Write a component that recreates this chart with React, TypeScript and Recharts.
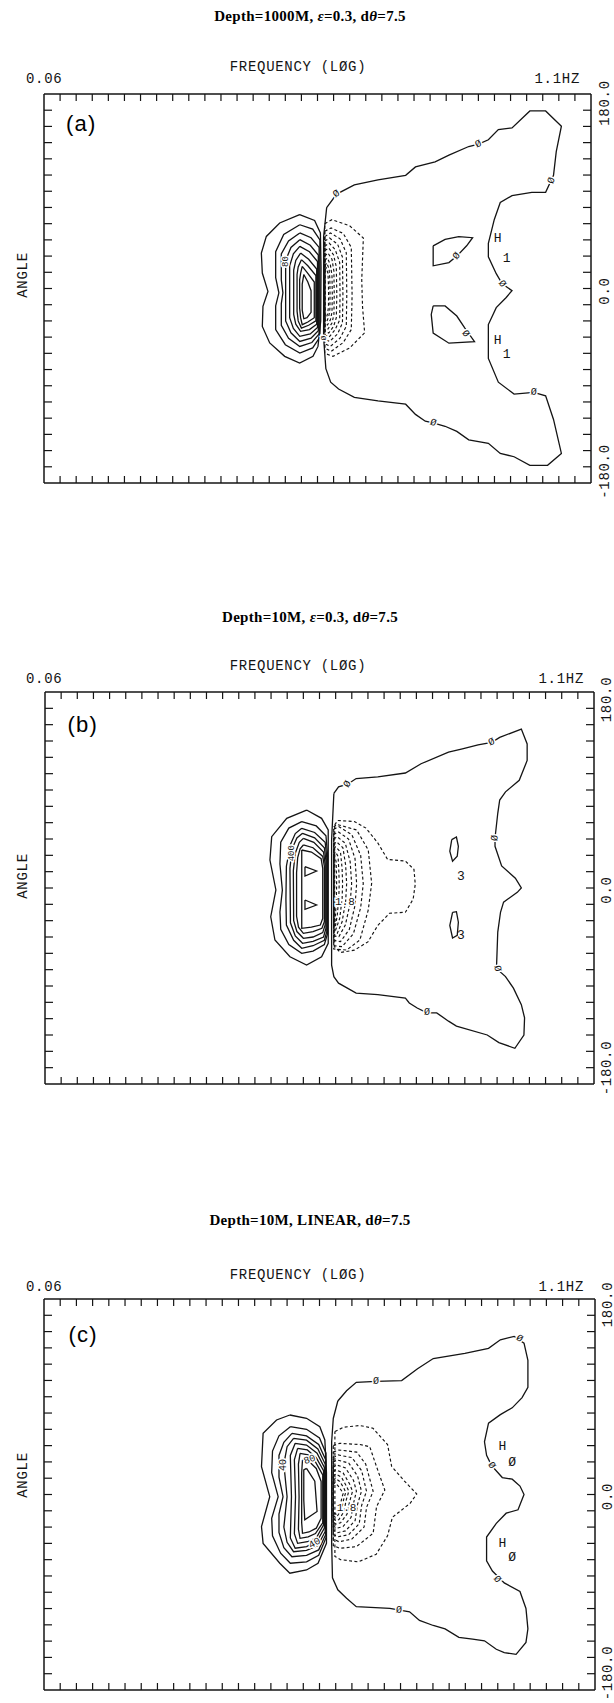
import React from "react";
import { LineChart, Line, XAxis, YAxis, ReferenceDot } from "recharts";

type Pt = [number, number];
type Tag = { x: number; y: number; t: string; rot?: number; size?: number; halo?: boolean };
type Box = { left: number; right: number; top: number; bottom: number };

// x: frequency bin on the log axis (0.06 .. 1.1 Hz), y: direction in degrees
const FREQ_TICKS = [1, 2, 3, 4, 5, 6, 7, 8, 9, 10, 11, 12, 13, 14, 15, 16, 17, 18, 19, 20, 21, 22, 23, 24, 25, 26, 27, 28, 29, 30, 31, 32, 33];
const ANGLE_TICKS = [-165, -150, -135, -120, -105, -90, -75, -60, -45, -30, -15, 0, 15, 30, 45, 60, 75, 90, 105, 120, 135, 150, 165];

// ---------- (a) depth 1000 m ----------
const A_ZERO: Pt[] = [
  [17.57, 74.9], [18.19, 87.4], [19.29, 95.9], [20.76, 100.6], [22.48, 104.7], [23.09, 112.5], [24.31, 117.2], [25.17, 123.5],
  [26.4, 131.4], [27.01, 133.6], [27.62, 137.6], [28.24, 147.1], [29.09, 148.6], [30.2, 164.3], [31.18, 164.3], [32.16, 150.2],
  [31.84, 126.7], [31.67, 104.7], [31.18, 89.0], [30.32, 89.0], [29.09, 85.9], [28.36, 79.6], [27.99, 63.9], [27.62, 41.9],
  [27.62, 29.4], [28.11, 13.7], [28.48, 4.3], [29.09, -2.0], [28.73, -8.3], [28.11, -17.7], [27.62, -33.4], [27.62, -64.7],
  [28.24, -86.7], [29.22, -97.7], [30.44, -96.1], [31.18, -99.3], [31.67, -121.2], [32.16, -152.6], [31.3, -163.6], [30.2, -163.6],
  [29.22, -155.7], [28.36, -152.6], [27.62, -143.2], [26.4, -140.0], [25.66, -132.2], [24.93, -127.5], [24.19, -124.4], [23.7, -122.8],
  [23.09, -116.5], [22.48, -107.1], [20.76, -104.0], [19.29, -100.8], [18.31, -93.0], [17.82, -86.7], [17.52, -74.2], [17.38, -45.9],
  [17.38, 48.2],
];
const A_LOOP_UP: Pt[] = [[24.19, 39.5], [24.93, 45.5], [25.78, 48], [26.64, 47], [26.27, 39.5], [25.66, 30], [25.17, 24], [24.19, 21]];
const A_LOOP_DN: Pt[] = [[24.19, -16.1], [24.93, -16.1], [25.66, -25.5], [26.15, -36.5], [26.76, -49.1], [25.17, -50.6], [24.19, -41.2], [24.07, -24.0]];
const A_POS: Pt[][] = [
  [[15.89, 68.3], [16.82, 63], [17.18, 51.4], [17.22, 20], [17.2, -30], [17.03, -53.6], [16.72, -62.8], [15.89, -69], [14.96, -62.8], [14.03, -50.4], [13.57, -35.1], [13.61, -16.5], [13.92, -2.7], [13.57, 14.3], [13.51, 32.8], [13.82, 48.2], [14.65, 60.6]],
  [[15.9, 59], [16.7, 55], [17.15, 45], [17.15, -45], [16.7, -55], [15.9, -59.7], [15.0, -52], [14.4, -38], [14.4, -16], [14.6, -4], [14.4, 10], [14.4, 34], [14.9, 50]],
  [[15.9, 51.4], [16.6, 47], [17.1, 38], [17.1, -42], [16.65, -50], [15.9, -53.6], [15.2, -46], [14.75, -34], [14.75, -14], [14.85, -4], [14.75, 8], [14.75, 32], [15.2, 44]],
  [[15.9, 45.2], [16.55, 40], [17.05, 31], [17.05, -39], [16.6, -46], [15.9, -49], [15.35, -41], [15.02, -30], [15.02, 26], [15.35, 38]],
  [[15.9, 39], [16.5, 34], [17.0, 25], [17.0, -36], [16.55, -42], [15.9, -44.3], [15.5, -37], [15.27, -27], [15.27, 21], [15.5, 32]],
  [[15.95, 32.8], [16.45, 27], [16.95, 18], [16.95, -33], [16.5, -38], [15.95, -39.7], [15.65, -33], [15.52, -24], [15.52, 17], [15.65, 26]],
  [[16.0, 26.7], [16.4, 21], [16.9, 12], [16.9, -30], [16.45, -34], [16.0, -36.6], [15.8, -30], [15.73, -21], [15.73, 13], [15.8, 20]],
  [[16.05, 20.5], [16.35, 15], [16.8, 6], [16.8, -27], [16.4, -31], [16.05, -33.5], [15.95, -27], [15.89, -18], [15.89, 8], [15.95, 14]],
  [[16.15, 13], [16.4, 6], [16.6, -2], [16.6, -22], [16.35, -27], [16.15, -28], [16.05, -20], [16.05, 4]],
];
const A_NEG: Pt[][] = [
  [[17.45, 60], [17.9, 63.7], [19.0, 58], [19.85, 46.7], [19.75, 8], [19.8, -17], [19.93, -41], [19.0, -55], [17.96, -62.8], [17.45, -60]],
  [[17.45, 53], [17.85, 56], [18.6, 51], [19.1, 38], [19.15, -6], [19.1, -38], [18.6, -50], [17.85, -58.2], [17.45, -55]],
  [[17.45, 48], [17.8, 51.4], [18.4, 46], [18.79, 33], [18.82, -6], [18.79, -35], [18.4, -46], [17.8, -53.6], [17.45, -51]],
  [[17.45, 44], [17.75, 46.7], [18.25, 41], [18.55, 29], [18.58, -6], [18.55, -32], [18.25, -42], [17.75, -49], [17.45, -47]],
  [[17.45, 39], [17.72, 42.1], [18.1, 36], [18.38, 24], [18.4, -6], [18.38, -29], [18.1, -38], [17.72, -44.9], [17.45, -43]],
  [[17.45, 35], [17.7, 37.5], [18.0, 31], [18.17, 20], [18.2, -6], [18.17, -27], [18.0, -35], [17.7, -41.2], [17.45, -39]],
  [[17.45, 30], [17.65, 32.9], [17.9, 27], [18.02, 16], [18.04, -6], [18.02, -24], [17.9, -32], [17.65, -37.5], [17.45, -35]],
  [[17.45, 26], [17.62, 28.2], [17.8, 22], [17.9, 12], [17.92, -6], [17.9, -22], [17.8, -29], [17.62, -33.8], [17.45, -32]],
  [[17.45, 21], [17.58, 23.6], [17.72, 18], [17.77, 8], [17.78, -6], [17.77, -19], [17.7, -26], [17.58, -30.4], [17.45, -29]],
  [[17.45, 17], [17.55, 19], [17.65, 14], [17.68, 4], [17.69, -6], [17.68, -17], [17.63, -23], [17.55, -27.3], [17.45, -26]],
];
const A_TAGS: Tag[] = [
  { x: 18.19, y: 87.4, t: "Ø", rot: -35, halo: true },
  { x: 27.01, y: 133.6, t: "Ø", rot: -25, halo: true },
  { x: 31.55, y: 100, t: "Ø", rot: -70, halo: true },
  { x: 28.48, y: 4.3, t: "Ø", rot: 50, halo: true },
  { x: 30.44, y: -96.1, t: "Ø", rot: 5, halo: true },
  { x: 24.19, y: -124.4, t: "Ø", rot: 20, halo: true },
  { x: 25.66, y: 30, t: "Ø", rot: -50, halo: true },
  { x: 26.2, y: -42, t: "Ø", rot: 55, halo: true },
  { x: 17.38, y: -46, t: "Ø", rot: -90, size: 8, halo: true },
  { x: 15.07, y: 25, t: "80", rot: -90, size: 9, halo: true },
  { x: 28.2, y: 46, t: "H", size: 13 },
  { x: 28.75, y: 28, t: "1", size: 13 },
  { x: 28.2, y: -48.5, t: "H", size: 13 },
  { x: 28.75, y: -61, t: "1", size: 13 },
];

// ---------- (b) depth 10 m ----------
const B_ZERO: Pt[] = [
  [17.89, 86.8], [18.18, 92.9], [18.74, 95.3], [19.27, 100.5], [20.61, 102.0], [22.32, 105.6], [23.29, 114.1], [24.99, 124.7],
  [25.85, 127.7], [26.82, 131.4], [27.67, 133.8], [28.16, 138.3], [29.5, 146], [29.86, 132.3], [29.86, 117.1], [29.37, 98.9],
  [28.52, 88.3], [28.16, 80.8], [28.04, 68.6], [27.87, 45.9], [27.87, 38.3], [28.28, 20.2], [29.13, 9], [29.5, 0], [29.25, -4],
  [28.4, -13], [28.21, -22.3], [28.04, -40.5], [27.96, -73.8], [28.52, -81.4], [29.01, -92.0], [29.5, -107.1], [29.7, -119.2],
  [29.66, -135], [29.1, -147.2], [28.11, -142], [27.39, -135], [25.48, -126.8], [24.99, -122.3], [24.26, -114.7], [23.66, -114.7],
  [23.05, -110.2], [22.56, -105.6], [22.32, -101.1], [20.61, -98.0], [19.27, -96.5], [18.18, -87.4], [17.89, -81.4], [17.75, -70.8],
  [17.75, -22.3], [17.75, 44.4],
];
const B_LOOP_UP: Pt[] = [[25.19, 44.4], [25.48, 46.8], [25.6, 38.3], [25.53, 29.2], [25.24, 24.7], [25.07, 33.8]];
const B_LOOP_DN: Pt[] = [[25.24, -22.3], [25.48, -21.7], [25.6, -31.4], [25.53, -43.5], [25.24, -45.9], [25.07, -34.4]];
const B_PEAKS: Pt[][] = [
  [[16.1, 19.6], [16.82, 15.6], [16.1, 11.0]],
  [[16.1, -11.0], [16.82, -15.6], [16.1, -19.6]],
];
const B_POS: Pt[][] = [
  [[16.2, 71.6], [17.13, 64], [17.54, 53.3], [17.54, -50.8], [17.13, -63.1], [16.2, -70.7], [15.17, -63.1], [14.24, -47.8], [13.98, -26.4], [14.3, -1.8], [13.93, 25.7], [14.04, 47.1], [14.97, 64]],
  [[15.9, 60.9], [16.8, 57], [17.4, 48], [17.5, 30], [17.5, -42], [17.3, -52], [16.6, -58], [15.9, -60], [15.1, -52], [14.6, -38], [14.55, -22], [14.7, -2], [14.55, 22], [14.6, 42], [15.1, 55]],
  [[15.9, 54.8], [16.7, 51], [17.35, 42], [17.45, 28], [17.45, -40], [17.3, -48], [16.6, -53], [15.9, -55.4], [15.4, -48], [14.95, -34], [14.92, -10], [14.95, 20], [15.2, 40], [15.5, 50]],
  [[15.95, 50.2], [16.7, 46], [17.3, 37], [17.4, 25], [17.4, -37], [17.25, -45], [16.6, -49], [15.95, -50.8], [15.5, -44], [15.2, -32], [15.17, 18], [15.3, 36], [15.6, 46]],
  [[16.0, 45.6], [16.65, 42], [17.25, 33], [17.35, 22], [17.35, -34], [17.2, -41], [16.6, -45], [16.0, -46.2], [15.6, -40], [15.4, -30], [15.38, 16], [15.5, 32], [15.75, 42]],
  [[16.0, 39.5], [16.6, 37], [17.2, 29], [17.3, 20], [17.3, -31], [17.15, -37], [16.6, -40], [16.0, -41.6], [15.7, -36], [15.58, -26], [15.58, 14], [15.65, 28], [15.8, 36]],
  [[15.9, 34.9], [16.5, 33], [17.1, 27], [17.2, 18], [17.2, -28], [17.05, -34], [16.5, -36], [15.9, -37]],
];
const B_NEG: Pt[][] = [
  [[17.94, 58], [18.13, 62.0], [19.15, 61.1], [19.88, 55.0], [20.61, 41.4], [21.22, 26.2], [22.32, 24.7], [22.85, 17.1], [22.93, 3.5], [22.8, -10.2], [22.32, -22.3], [21.34, -23.2], [20.61, -34.4], [20.0, -49.5], [19.15, -57.1], [18.3, -59.2], [17.94, -54.1]],
  [[17.88, 56], [18.06, 58.5], [19.3, 53.3], [20.02, 34.9], [20.23, 4.3], [20.02, -20.2], [19.5, -47.8], [18.68, -57], [17.88, -56]],
  [[17.88, 54], [18.2, 56.3], [19.0, 49], [19.55, 30], [19.71, 4], [19.55, -18], [19.1, -42], [18.4, -53.9], [17.88, -53]],
  [[17.88, 49], [18.15, 51.7], [18.8, 45], [19.2, 27], [19.3, 4], [19.2, -16], [18.85, -38], [18.3, -49.3], [17.88, -48]],
  [[17.88, 45], [18.1, 47.1], [18.6, 41], [18.9, 24], [18.99, 4], [18.9, -14], [18.6, -34], [18.2, -44.7], [17.88, -44]],
  [[17.88, 40], [18.05, 42.5], [18.45, 37], [18.62, 21], [18.68, 4], [18.62, -12], [18.4, -31], [18.1, -41.6], [17.88, -41]],
  [[17.88, 36], [18.0, 37.9], [18.3, 33], [18.4, 18], [18.43, 4], [18.4, -10], [18.25, -28], [18.0, -38.6], [17.88, -38]],
  [[17.88, 31], [17.98, 33.4], [18.15, 29], [18.2, 15], [18.22, 4], [18.2, -8], [18.1, -25], [17.98, -35.5], [17.88, -35]],
  [[17.88, 27], [17.95, 28.8], [18.03, 24], [18.05, 12], [18.06, 4], [18.05, -6], [18.0, -22], [17.95, -32.4], [17.88, -32]],
];
const B_TAGS: Tag[] = [
  { x: 18.74, y: 95.3, t: "Ø", rot: -60, halo: true },
  { x: 27.67, y: 133.8, t: "Ø", rot: -25, halo: true },
  { x: 27.87, y: 45.9, t: "Ø", rot: -85, halo: true },
  { x: 28.0, y: -74, t: "Ø", rot: 80, halo: true },
  { x: 23.66, y: -114.7, t: "Ø", rot: 0, halo: true },
  { x: 15.28, y: 31.9, t: "400", rot: -90, size: 9, halo: true },
  { x: 18.58, y: -12.6, t: "1.8", size: 11, halo: true },
  { x: 25.75, y: 11, t: "3", size: 13 },
  { x: 25.75, y: -44, t: "3", size: 13 },
];

// ---------- (c) depth 10 m, linear ----------
const C_ZERO: Pt[] = [
  [18.13, 86.1], [18.67, 95.5], [19.27, 103.3], [20.49, 104.2], [22.07, 104.9], [23.05, 115.8], [24.02, 125.2], [25.97, 129.9],
  [27.43, 134.6], [28.16, 142.4], [29.01, 145.6], [29.62, 139.3], [29.86, 123.6], [29.86, 98.6], [29.5, 89.2], [28.89, 79.8],
  [28.16, 73.5], [27.43, 65.7], [27.18, 48.5], [27.31, 36.0], [27.62, 26.6], [28.28, 15.6], [28.89, 14.1], [29.37, 7.8],
  [29.62, 0.0], [29.25, -14.1], [28.52, -17.2], [27.91, -26.6], [27.31, -39.2], [27.31, -61.1], [27.67, -70.5], [28.4, -81.4],
  [29.37, -89.3], [29.74, -104.9], [29.86, -123.7], [29.74, -136.2], [29.13, -147.2], [28.4, -145.6], [27.91, -142.5], [27.18, -134.7],
  [26.45, -133.1], [25.6, -131.5], [24.75, -123.7], [24.02, -120.6], [23.17, -115.9], [22.56, -108.0], [21.34, -104.9], [19.27, -103.3],
  [18.67, -95.5], [18.13, -87.7], [17.8, -76.7], [17.75, -45.4], [17.75, 48.5], [17.85, 70],
];
const C_POS: Pt[][] = [
  [[15.17, 73.2], [16.2, 70.2], [17.02, 62.4], [17.33, 50.2], [17.43, 20], [17.43, -45], [16.91, -63.3], [16.2, -69.5], [15.17, -72.5], [14.55, -63.3], [13.52, -45], [13.42, -29.6], [13.93, -2], [13.42, 25.6], [13.52, 56.3], [14.35, 68.6]],
  [[15.2, 62.4], [16.2, 60], [17.0, 52], [17.4, 38], [17.4, -40], [16.95, -56], [16.2, -62], [15.2, -63.3], [14.6, -54], [14.1, -38], [14.05, -22], [14.45, -2], [14.05, 20], [14.1, 40], [14.5, 54]],
  [[15.3, 56.3], [16.2, 54], [16.95, 46], [17.38, 32], [17.38, -37], [16.95, -51], [16.2, -56], [15.3, -57.3], [14.8, -49], [14.5, -35], [14.5, -18], [14.75, -2], [14.5, 16], [14.5, 36], [14.8, 48]],
  [[15.4, 51.7], [16.2, 50], [16.9, 42], [17.35, 28], [17.35, -34], [16.9, -47], [16.2, -51.5], [15.4, -52.7], [15.0, -44], [14.8, -30], [15.0, -2], [14.8, 28], [15.0, 44]],
  [[15.5, 47.1], [16.2, 45.5], [16.85, 38], [17.3, 25], [17.3, -31], [16.85, -43], [16.2, -48], [15.5, -49.5], [15.2, -40], [15.27, -2], [15.2, 36]],
  [[15.65, 42.5], [16.25, 41], [16.8, 34], [17.25, 22], [17.25, -28], [16.8, -40], [16.25, -43.5], [15.65, -45], [15.45, -36], [15.52, -2], [15.45, 32]],
  [[15.8, 37.9], [16.3, 36.5], [16.75, 30], [17.2, 18], [17.2, -26], [16.75, -36], [16.3, -39], [15.8, -40.3], [15.7, -32], [15.74, -2], [15.7, 28]],
  [[15.95, 31.8], [16.35, 30.5], [16.8, 24], [17.1, 12], [17.1, -22], [16.8, -31], [16.35, -34.5], [15.95, -35.7], [15.9, -26], [15.9, 20]],
  [[16.2, 24.1], [16.71, 12.2], [16.85, -15.6], [16.09, -23.2], [16.03, -5], [16.03, 22.7]],
];
const C_NEG: Pt[][] = [
  [[17.95, 58], [18.5, 62], [19.5, 63.5], [20.3, 61], [21.2, 46], [21.45, 26], [22.2, 13], [23.0, 0.5], [22.6, -8], [21.5, -21], [21.2, -38], [20.5, -55], [19.4, -62], [18.3, -60], [17.95, -57]],
  [[17.85, 45], [18.25, 47.1], [19.5, 46], [20.1, 44], [20.52, 25.6], [21.03, 4.1], [20.52, -11.2], [20.31, -35.7], [19.28, -48], [18.25, -49.5], [17.85, -47]],
  [[17.85, 39], [18.2, 41], [19.3, 39], [19.85, 28], [20.31, 3], [19.9, -12], [19.75, -30], [19.0, -41], [18.2, -43.5], [17.85, -41]],
  [[17.85, 34], [18.15, 36.4], [19.0, 34], [19.6, 22], [19.9, 3], [19.6, -10], [19.45, -27], [18.8, -37], [18.15, -38.9], [17.85, -37]],
  [[17.85, 30], [18.1, 31.8], [18.8, 29], [19.35, 17], [19.59, 3], [19.35, -9], [19.2, -24], [18.6, -33.5], [18.1, -35.2], [17.85, -33]],
  [[17.85, 25], [18.05, 27.2], [18.6, 24.5], [19.1, 13], [19.28, 3], [19.1, -8], [18.95, -21], [18.45, -29.5], [18.05, -31.1], [17.85, -29]],
  [[17.85, 21], [18.0, 22.6], [18.45, 20], [18.85, 10], [19.04, 3], [18.85, -7], [18.7, -18], [18.3, -26], [18.0, -27.2], [17.85, -25]],
  [[17.85, 17], [18.0, 18.9], [18.35, 16], [18.65, 8], [18.81, 3], [18.65, -5], [18.5, -16], [18.2, -23], [18.0, -24.1], [17.85, -22]],
  [[17.85, 13], [17.98, 14.9], [18.25, 12], [18.5, 6], [18.62, 2], [18.5, -4], [18.35, -14], [18.1, -20], [17.98, -21], [17.85, -19]],
  [[17.85, 9], [17.95, 10.9], [18.15, 8], [18.38, 3], [18.46, 1], [18.38, -3], [18.25, -12], [18.02, -18], [17.85, -17]],
];
const C_TAGS: Tag[] = [
  { x: 20.49, y: 104.2, t: "Ø", rot: 0, halo: true },
  { x: 29.33, y: 143.4, t: "Ø", rot: 35, halo: true },
  { x: 27.62, y: 26.6, t: "Ø", rot: 55, halo: true },
  { x: 27.96, y: -78.3, t: "Ø", rot: 50, halo: true },
  { x: 21.9, y: -106.5, t: "Ø", rot: 5, halo: true },
  { x: 14.75, y: 27.2, t: "40", rot: -90, size: 10, halo: true },
  { x: 16.4, y: 31.8, t: "80", rot: -20, size: 10, halo: true },
  { x: 16.71, y: -45, t: "40", rot: -30, size: 10, halo: true },
  { x: 18.67, y: -12.7, t: "1.8", size: 11, halo: true },
  { x: 28.28, y: 43.8, t: "H", size: 13 },
  { x: 28.89, y: 29.7, t: "Ø", size: 13 },
  { x: 28.28, y: -45.4, t: "H", size: 13 },
  { x: 28.89, y: -57.9, t: "Ø", size: 13 },
];

const INK = "#141414";
const MONO = "'Liberation Mono', 'DejaVu Sans Mono', monospace";

const ring = (p: Pt[]) => [...p, p[0]].map(([x, y]) => ({ x, y }));

// the frame carries bare inward ticks, no numbers
const NoLabel = () => <g />;

function TagText({ cx, cy, g }: { cx: number; cy: number; g: Tag }) {
  return (
    <text
      x={cx}
      y={cy}
      transform={g.rot ? `rotate(${g.rot} ${cx} ${cy})` : undefined}
      textAnchor="middle"
      dominantBaseline="central"
      fontFamily={MONO}
      fontSize={g.size ?? 10}
      fill={INK}
      stroke={g.halo ? "#fff" : "none"}
      strokeWidth={g.halo ? 3 : 0}
      style={{ paintOrder: "stroke" }}
    >
      {g.t}
    </text>
  );
}

type PanelProps = {
  box: Box;
  zero: Pt[];
  loops: Pt[][];
  pos: Pt[][];
  neg: Pt[][];
  tags: Tag[];
};

function ContourPanel({ box, zero, loops, pos, neg, tags }: PanelProps) {
  const pad = 12;
  const height = box.bottom - box.top + pad * 2;
  const solid = [zero, ...loops, ...pos];
  const axisLine = { stroke: INK, strokeWidth: 1.5 };
  const tickLine = { stroke: INK, strokeWidth: 1.2 };
  return (
    <div style={{ position: "absolute", left: 0, top: box.top - pad }}>
      <LineChart width={614} height={height} margin={{ top: pad, bottom: pad, left: box.left, right: 614 - box.right }}>
        <XAxis xAxisId="b" dataKey="x" type="number" domain={[0, 34]} ticks={FREQ_TICKS} interval={0} allowDataOverflow
          orientation="bottom" mirror tick={NoLabel} tickSize={7} axisLine={axisLine} tickLine={tickLine} />
        <XAxis xAxisId="t" dataKey="x" type="number" domain={[0, 34]} ticks={FREQ_TICKS} interval={0} allowDataOverflow
          orientation="top" mirror tick={NoLabel} tickSize={7} axisLine={axisLine} tickLine={tickLine} />
        <YAxis yAxisId="l" type="number" domain={[-180, 180]} ticks={ANGLE_TICKS} interval={0} allowDataOverflow
          orientation="left" mirror tick={NoLabel} tickSize={8} axisLine={axisLine} tickLine={tickLine} />
        <YAxis yAxisId="r" type="number" domain={[-180, 180]} ticks={ANGLE_TICKS} interval={0} allowDataOverflow
          orientation="right" mirror tick={NoLabel} tickSize={8} axisLine={axisLine} tickLine={tickLine} />
        {solid.map((p, i) => (
          <Line key={`s${i}`} xAxisId="b" yAxisId="l" data={ring(p)} dataKey="y" type="linear"
            stroke={INK} strokeWidth={1.3} dot={false} activeDot={false} isAnimationActive={false} />
        ))}
        {neg.map((p, i) => (
          <Line key={`n${i}`} xAxisId="t" yAxisId="r" data={ring(p)} dataKey="y" type="linear"
            stroke={INK} strokeWidth={1.15} strokeDasharray="3 2.4" dot={false} activeDot={false} isAnimationActive={false} />
        ))}
        {tags.map((g, i) => (
          <ReferenceDot key={`g${i}`} xAxisId="b" yAxisId="l" x={g.x} y={g.y} r={2}
            shape={(p: any) => <TagText cx={p.cx} cy={p.cy} g={g} />} />
        ))}
      </LineChart>
    </div>
  );
}

type Frame = {
  box: Box;
  title: React.ReactNode;
  titleY: number;
  freqY: number;
  endY: number;
  hzX: number;
  angleY: number;
  sideX: number;
  sideY: [number, number, number];
  letter: string;
  letterX: number;
  letterY: number;
};

const FRAMES: Frame[] = [
  {
    box: { left: 44, right: 591, top: 94, bottom: 483 },
    title: <>Depth=1000M, <tspan fontStyle="italic">ε</tspan>=0.3, d<tspan fontStyle="italic">θ</tspan>=7.5</>,
    titleY: 20.5, freqY: 71, endY: 83, hzX: 580, angleY: 275, sideX: 609, sideY: [103, 291, 471.5],
    letter: "(a)", letterX: 66, letterY: 130.5,
  },
  {
    box: { left: 45, right: 594, top: 692, bottom: 1084 },
    title: <>Depth=10M, <tspan fontStyle="italic">ε</tspan>=0.3, d<tspan fontStyle="italic">θ</tspan>=7.5</>,
    titleY: 621.5, freqY: 670, endY: 682.5, hzX: 584, angleY: 876, sideX: 610.5, sideY: [699.5, 890, 1068],
    letter: "(b)", letterX: 67.5, letterY: 732,
  },
  {
    box: { left: 44, right: 595, top: 1299, bottom: 1690 },
    title: <>Depth=10M, LINEAR, d<tspan fontStyle="italic">θ</tspan>=7.5</>,
    titleY: 1225, freqY: 1278.5, endY: 1290.5, hzX: 584, angleY: 1475, sideX: 611.5, sideY: [1304.5, 1496.5, 1673],
    letter: "(c)", letterX: 68.5, letterY: 1342,
  },
];

const SIDE_LABELS = ["180.0", "0.0", "-180.0"];

function FrameText({ f }: { f: Frame }) {
  const mono = { fontFamily: MONO, fontSize: 14, letterSpacing: 0.7, fill: INK };
  return (
    <g>
      <text x={310} y={f.titleY} textAnchor="middle" fontFamily="'Liberation Serif', serif" fontWeight="bold" fontSize={15} letterSpacing={0.3} fill="#000">
        {f.title}
      </text>
      <text x={298} y={f.freqY} textAnchor="middle" {...mono}>FREQUENCY (LØG)</text>
      <text x={26} y={f.endY} {...mono}>0.06</text>
      <text x={f.hzX} y={f.endY} textAnchor="end" {...mono}>1.1HZ</text>
      <text transform={`translate(26.5 ${f.angleY}) rotate(-90)`} textAnchor="middle" {...mono}>ANGLE</text>
      {SIDE_LABELS.map((s, i) => (
        <text key={s} transform={`translate(${f.sideX} ${f.sideY[i]}) rotate(-90)`} textAnchor="middle" {...mono}>{s}</text>
      ))}
      <text x={f.letterX} y={f.letterY} fontFamily="'Liberation Sans', Arial, sans-serif" fontSize={22} letterSpacing={1.2} fill="#000">
        {f.letter}
      </text>
    </g>
  );
}

export default function App() {
  return (
    <div style={{ position: "absolute", left: 0, top: 0, width: 614, height: 1703, background: "#fff", overflow: "hidden" }}>
      <ContourPanel box={FRAMES[0].box} zero={A_ZERO} loops={[A_LOOP_UP, A_LOOP_DN]} pos={A_POS} neg={A_NEG} tags={A_TAGS} />
      <ContourPanel box={FRAMES[1].box} zero={B_ZERO} loops={[B_LOOP_UP, B_LOOP_DN, ...B_PEAKS]} pos={B_POS} neg={B_NEG} tags={B_TAGS} />
      <ContourPanel box={FRAMES[2].box} zero={C_ZERO} loops={[]} pos={C_POS} neg={C_NEG} tags={C_TAGS} />
      <svg width={614} height={1703} style={{ position: "absolute", left: 0, top: 0, pointerEvents: "none" }}>
        {FRAMES.map((f) => (
          <FrameText key={f.letter} f={f} />
        ))}
      </svg>
    </div>
  );
}
